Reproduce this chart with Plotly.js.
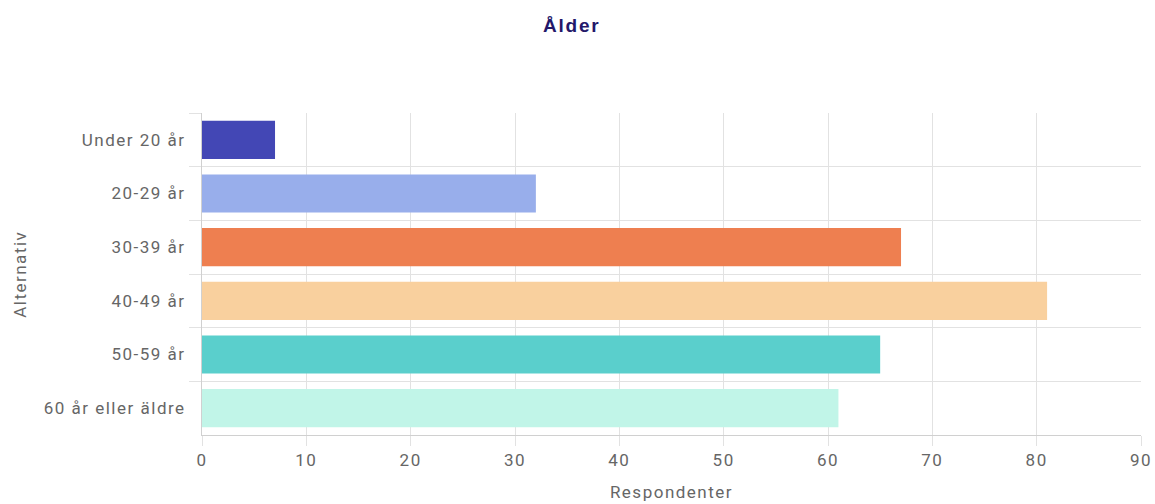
<!DOCTYPE html>
<html>
<head>
<meta charset="utf-8">
<script src="https://cdn.plot.ly/plotly-3.0.1.min.js"></script>
<style>
html,body{margin:0;padding:0;background:#fff}
#chart{width:1155px;height:504px}
.xtick text, .ytick text, .g-xtitle text, .g-ytitle text, .annotation-text { letter-spacing: 1.5px; }
.gtitle { letter-spacing: 1.8px; }
</style>
</head>
<body>
<div id="chart"></div>
<script>
const categories = ["Under 20 år", "20-29 år", "30-39 år", "40-49 år", "50-59 år", "60 år eller äldre"];
const respondents = [7, 32, 67, 81, 65, 61];
const barColors = ["#4347b5", "#98aeeb", "#ee7f50", "#f9d09e", "#5acfcc", "#c1f5e8"];
const xTicks = [0, 10, 20, 30, 40, 50, 60, 70, 80, 90];
const yTitle = "Alternativ";

const trace = {
  type: "bar",
  orientation: "h",
  x: respondents,
  y: categories,
  marker: {color: barColors},
  hoverinfo: "x+y"
};

const layout = {
  width: 1155,
  height: 504,
  margin: {l: 202, r: 14, t: 113, b: 69},
  paper_bgcolor: "#fff",
  plot_bgcolor: "#fff",
  font: {family: "Roboto, Arial, sans-serif", color: "#666", size: 17},
  title: {
    text: "<b>Ålder</b>",
    font: {family: "Arial, Liberation Sans, sans-serif", size: 19, color: "#24186a"},
    x: 0.495, xanchor: "center", y: 0.95, yanchor: "middle"
  },
  bargap: 0.29,
  showlegend: false,
  xaxis: {
    range: [0, 90],
    tickvals: xTicks,
    ticktext: xTicks.map(String),
    showgrid: true,
    gridcolor: "#e2e2e2",
    gridwidth: 1,
    zeroline: false,
    showline: true,
    linecolor: "#d0d0d0",
    ticks: "outside",
    ticklen: 10,
    tickcolor: "#e2e2e2",
    tickfont: {size: 17, color: "#666"},
    title: {text: "Respondenter", font: {size: 17, color: "#666"}, standoff: 16},
    fixedrange: true
  },
  yaxis: {
    type: "category",
    autorange: "reversed",
    tickson: "boundaries",
    showgrid: true,
    gridcolor: "#e2e2e2",
    showline: true,
    linecolor: "#d0d0d0",
    ticks: "outside",
    ticklen: 12,
    tickcolor: "#e2e2e2",
    ticklabelstandoff: 12,
    tickfont: {size: 17, color: "#666"},
    fixedrange: true
  },
  annotations: [{
    text: yTitle,
    xref: "paper", yref: "paper",
    x: -0.194, y: 0.5,
    xanchor: "center", yanchor: "middle",
    textangle: -90,
    showarrow: false,
    font: {size: 17, color: "#666"}
  }]
};

Plotly.newPlot("chart", [trace], layout, {displayModeBar: false, responsive: false});
</script>
</body>
</html>
